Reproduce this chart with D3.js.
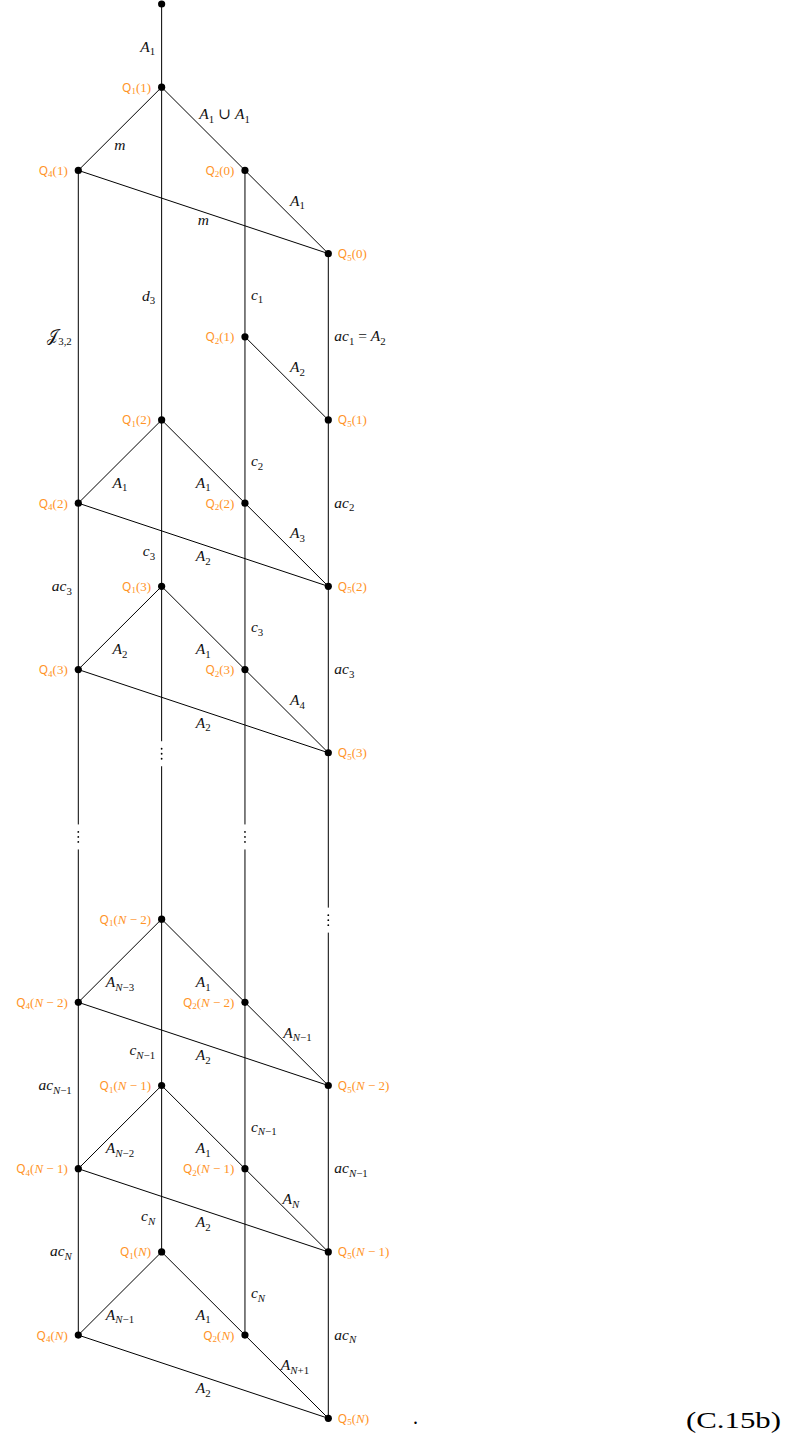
<!DOCTYPE html>
<html>
<head>
<meta charset="utf-8">
<script src="https://cdn.jsdelivr.net/npm/d3@7/dist/d3.min.js"></script>
<style>
  body { margin: 0; background: #fff; }
  text { white-space: pre; }
</style>
</head>
<body>
<div id="chart"></div>
<script>
//Columnas (familias de nodos) y filas del diagrama
const columns = ['Q4', 'Q1', 'Q2', 'Q5'];
const rowCount = 18;

//Nodos: [id, columna, fila, subíndice de Q, argumento]
const nodes = [
    ['top', 'Q1', 0, '', ''],
    ['Q1(1)', 'Q1', 1, '1', '1'],
    ['Q4(1)', 'Q4', 2, '4', '1'],
    ['Q2(0)', 'Q2', 2, '2', '0'],
    ['Q5(0)', 'Q5', 3, '5', '0'],
    ['Q2(1)', 'Q2', 4, '2', '1'],
    ['Q1(2)', 'Q1', 5, '1', '2'],
    ['Q5(1)', 'Q5', 5, '5', '1'],
    ['Q4(2)', 'Q4', 6, '4', '2'],
    ['Q2(2)', 'Q2', 6, '2', '2'],
    ['Q1(3)', 'Q1', 7, '1', '3'],
    ['Q5(2)', 'Q5', 7, '5', '2'],
    ['Q4(3)', 'Q4', 8, '4', '3'],
    ['Q2(3)', 'Q2', 8, '2', '3'],
    ['Q5(3)', 'Q5', 9, '5', '3'],
    ['Q1(N-2)', 'Q1', 11, '1', 'N - 2'],
    ['Q4(N-2)', 'Q4', 12, '4', 'N - 2'],
    ['Q2(N-2)', 'Q2', 12, '2', 'N - 2'],
    ['Q1(N-1)', 'Q1', 13, '1', 'N - 1'],
    ['Q5(N-2)', 'Q5', 13, '5', 'N - 2'],
    ['Q4(N-1)', 'Q4', 14, '4', 'N - 1'],
    ['Q2(N-1)', 'Q2', 14, '2', 'N - 1'],
    ['Q1(N)', 'Q1', 15, '1', 'N'],
    ['Q5(N-1)', 'Q5', 15, '5', 'N - 1'],
    ['Q4(N)', 'Q4', 16, '4', 'N'],
    ['Q2(N)', 'Q2', 16, '2', 'N'],
    ['Q5(N)', 'Q5', 17, '5', 'N']
];

//Aristas: [origen, destino, etiqueta]
const edges = [
    ['top', 'Q1(1)', 'A_1'],
    ['Q1(1)', 'Q4(1)', 'm'],
    ['Q1(1)', 'Q2(0)', 'A_1 ∪ A_1'],
    ['Q1(1)', 'Q1(2)', 'd_3'],
    ['Q4(1)', 'Q5(0)', 'm'],
    ['Q2(0)', 'Q5(0)', 'A_1'],
    ['Q2(0)', 'Q2(1)', 'c_1'],
    ['Q4(1)', 'Q4(2)', '𝒥_{3,2}'],
    ['Q5(0)', 'Q5(1)', 'ac_1 = A_2'],
    ['Q2(1)', 'Q5(1)', 'A_2'],
    ['Q1(2)', 'Q4(2)', 'A_1'],
    ['Q1(2)', 'Q2(2)', 'A_1'],
    ['Q2(1)', 'Q2(2)', 'c_2'],
    ['Q5(1)', 'Q5(2)', 'ac_2'],
    ['Q4(2)', 'Q5(2)', 'A_2'],
    ['Q2(2)', 'Q5(2)', 'A_3'],
    ['Q1(2)', 'Q1(3)', 'c_3'],
    ['Q4(2)', 'Q4(3)', 'ac_3'],
    ['Q2(2)', 'Q2(3)', 'c_3'],
    ['Q5(2)', 'Q5(3)', 'ac_3'],
    ['Q1(3)', 'Q4(3)', 'A_2'],
    ['Q1(3)', 'Q2(3)', 'A_1'],
    ['Q4(3)', 'Q5(3)', 'A_2'],
    ['Q2(3)', 'Q5(3)', 'A_4'],
    ['Q1(N-2)', 'Q4(N-2)', 'A_{N-3}'],
    ['Q1(N-2)', 'Q2(N-2)', 'A_1'],
    ['Q4(N-2)', 'Q5(N-2)', 'A_2'],
    ['Q2(N-2)', 'Q5(N-2)', 'A_{N-1}'],
    ['Q1(N-2)', 'Q1(N-1)', 'c_{N-1}'],
    ['Q4(N-2)', 'Q4(N-1)', 'ac_{N-1}'],
    ['Q2(N-2)', 'Q2(N-1)', 'c_{N-1}'],
    ['Q5(N-2)', 'Q5(N-1)', 'ac_{N-1}'],
    ['Q1(N-1)', 'Q4(N-1)', 'A_{N-2}'],
    ['Q1(N-1)', 'Q2(N-1)', 'A_1'],
    ['Q4(N-1)', 'Q5(N-1)', 'A_2'],
    ['Q2(N-1)', 'Q5(N-1)', 'A_N'],
    ['Q1(N-1)', 'Q1(N)', 'c_N'],
    ['Q4(N-1)', 'Q4(N)', 'ac_N'],
    ['Q2(N-1)', 'Q2(N)', 'c_N'],
    ['Q5(N-1)', 'Q5(N)', 'ac_N'],
    ['Q1(N)', 'Q4(N)', 'A_{N-1}'],
    ['Q1(N)', 'Q2(N)', 'A_1'],
    ['Q4(N)', 'Q5(N)', 'A_2'],
    ['Q2(N)', 'Q5(N)', 'A_{N+1}']
];

//Aristas con puntos suspensivos
const skipEdges = [
    ['Q1(3)', 'Q1(N-2)'],
    ['Q4(3)', 'Q4(N-2)'],
    ['Q2(3)', 'Q2(N-2)'],
    ['Q5(3)', 'Q5(N-2)']
];

const equationTag = '(C.15b)';

//Colores y fuentes
const COLOR_NODE_LABEL = '#ff9326',
    COLOR_LINE = '#000',
    MATH_FONT = "'Liberation Serif', 'DejaVu Serif', serif",
    SANS_FONT = "'Noto Sans', 'DejaVu Sans', sans-serif";

//Reglas de colocación de etiquetas según el tipo de arista
const placeRules = {
    'Q1-Q1': { side: 'left', t: 0.79 },
    'Q4-Q4': { side: 'left', t: 0.5 },
    'Q2-Q2': { side: 'right', t: 0.75 },
    'Q5-Q5': { side: 'right', t: 0.5 },
    'Q1-Q4': { side: 'center', tx: 0.5, ty: 0.76, dy: 0 },
    'Q1-Q2': { side: 'center', tx: 0.5, ty: 0.76, dy: 0 },
    'Q2-Q5': { side: 'center', tx: 0.63, ty: 0.37, dy: 0 },
    'Q4-Q5': { side: 'center', tx: 0.5, ty: 0.5, dy: 12 }
};
const placeOverrides = {
    0: { t: 0.52 },
    1: { ty: 0.7 },
    2: { side: 'aboveRight' },
    3: { t: 0.628 },
    4: { dy: 9 },
    35: { tx: 0.55 },
    43: { tx: 0.6 }
};

const width = 793, height = 1443;

const svg = d3.select('#chart')
    .append('svg')
        .attr('width', width)
        .attr('height', height)
        .attr('viewBox', [0, 0, width, height]);

let x = d3.scalePoint()
    .domain(columns)
    .range([78.3, 328.3]);

let y = d3.scaleLinear()
    .domain([0, rowCount - 1])
    .range([4, 1418.3]);

const nodeData = nodes.map(function(n) {
    return { id: n[0], col: n[1], row: n[2], idx: n[3], arg: n[4] };
});
const byId = new Map(nodeData.map(function(d) { return [d.id, d]; }));

function px(d) { return x(d.col); }
function py(d) { return y(d.row); }

//Texto matemático: separa subíndices y letras en cursiva
function mathRuns(str) {
    let out = [];
    let re = /_(\{[^}]*\}|.)|([^_]+)/g, m;
    while ((m = re.exec(str))) {
        if (m[1]) pushRuns(out, m[1].replace(/[{}]/g, ''), true);
        else pushRuns(out, m[2], false);
    }
    return out;
}
function pushRuns(out, s, sub) {
    s = s.replace(/-/g, '−');
    (s.match(/[A-Za-z]+|[^A-Za-z]+/g) || []).forEach(function(p) {
        out.push({ t: p, sub: sub, it: /[A-Za-z]/.test(p) });
    });
}
function setMath(sel, str, size) {
    let shift = 0;
    mathRuns(str).forEach(function(r) {
        let target = r.sub ? size * 0.24 : 0;
        sel.append('tspan')
            .attr('dy', target - shift)
            .attr('font-size', r.sub ? size * 0.7 : size)
            .attr('font-style', r.it ? 'italic' : 'normal')
            .text(r.t);
        shift = target;
    });
}

///// Líneas
const gLines = svg.append('g')
    .attr('stroke', COLOR_LINE)
    .attr('stroke-width', 1)
    .attr('fill', 'none');

gLines.selectAll('line.edge')
    .data(edges)
    .enter()
    .append('line')
    .attr('class', 'edge')
    .attr('x1', function(e) { return px(byId.get(e[0])); })
    .attr('y1', function(e) { return py(byId.get(e[0])); })
    .attr('x2', function(e) { return px(byId.get(e[1])); })
    .attr('y2', function(e) { return py(byId.get(e[1])); });

//Aristas interrumpidas con puntos suspensivos en su centro
const GAP = 12.5;
skipEdges.forEach(function(e) {
    let a = byId.get(e[0]), b = byId.get(e[1]);
    let xc = px(a), ym = (py(a) + py(b)) / 2 + 1;
    gLines.append('line')
        .attr('x1', xc).attr('x2', xc)
        .attr('y1', py(a)).attr('y2', ym - GAP);
    gLines.append('line')
        .attr('x1', xc).attr('x2', xc)
        .attr('y1', ym + GAP).attr('y2', py(b));
    svg.append('g')
        .selectAll('circle')
        .data([-5, 0, 5])
        .enter()
        .append('circle')
        .attr('cx', xc)
        .attr('cy', function(d) { return ym + d; })
        .attr('r', 0.9)
        .attr('fill', COLOR_LINE);
});

///// Nodos
svg.append('g')
    .selectAll('circle')
    .data(nodeData)
    .enter()
    .append('circle')
    .attr('cx', px)
    .attr('cy', py)
    .attr('r', 3.6)
    .attr('fill', COLOR_LINE);

//Etiquetas de nodos (naranja)
const nodeLabels = svg.append('g')
    .selectAll('text')
    .data(nodeData.filter(function(d) { return d.idx !== ''; }))
    .enter()
    .append('text')
    .attr('fill', COLOR_NODE_LABEL)
    .attr('font-family', MATH_FONT)
    .attr('font-size', 13)
    .attr('x', function(d) { return d.col === 'Q5' ? px(d) + 9.5 : px(d) - 10.5; })
    .attr('y', function(d) { return py(d) + 4.5; })
    .attr('text-anchor', function(d) { return d.col === 'Q5' ? 'start' : 'end'; });

nodeLabels.each(function(d) {
    let t = d3.select(this);
    t.append('tspan').attr('font-family', SANS_FONT).attr('font-size', 12).text('Q');
    t.append('tspan').attr('font-size', 9).attr('dy', 2.5).text(d.idx);
    t.append('tspan').attr('dy', -2.5).text('(');
    (d.arg.match(/[A-Za-z]+|[^A-Za-z]+/g) || []).forEach(function(p) {
        t.append('tspan')
            .attr('font-style', /[A-Za-z]/.test(p) ? 'italic' : 'normal')
            .text(p.replace(/-/g, '−'));
    });
    t.append('tspan').text(')');
});

///// Etiquetas de aristas
const LABEL_SIZE = 15.5;
const edgeLabels = svg.append('g')
    .attr('fill', '#111')
    .attr('font-family', MATH_FONT)
    .selectAll('text')
    .data(edges)
    .enter()
    .append('text');

edgeLabels.each(function(e, i) {
    let a = byId.get(e[0]), b = byId.get(e[1]);
    let x0 = px(a), y0 = py(a), x1 = px(b), y1 = py(b);
    let o = Object.assign({}, placeRules[a.col + '-' + b.col], placeOverrides[i] || {});
    let lx, ly, anchor;
    if (o.side === 'left' || o.side === 'right') {
        ly = y0 + o.t * (y1 - y0);
        lx = o.side === 'left' ? x0 - 6.5 : x0 + 6;
        anchor = o.side === 'left' ? 'end' : 'start';
    } else if (o.side === 'aboveRight') {
        lx = (x0 + x1) / 2 - 4;
        ly = (y0 + y1) / 2 - 14;
        anchor = 'start';
    } else {
        lx = x0 + o.tx * (x1 - x0);
        ly = y0 + o.ty * (y1 - y0) + (o.dy || 0);
        anchor = 'middle';
    }
    let t = d3.select(this)
        .attr('x', lx)
        .attr('y', ly + 4.5)
        .attr('text-anchor', anchor);
    setMath(t, e[2], LABEL_SIZE);
});

///// Punto final y número de ecuación
const last = byId.get('Q5(N)');
svg.append('text')
    .attr('x', 413)
    .attr('y', py(last) + 6)
    .attr('font-family', MATH_FONT)
    .attr('font-size', 20)
    .text('.');

svg.append('text')
    .attr('x', 781)
    .attr('y', py(last) + 9.5)
    .attr('text-anchor', 'end')
    .attr('font-family', MATH_FONT)
    .attr('font-size', 23)
    .attr('textLength', 95)
    .attr('lengthAdjust', 'spacingAndGlyphs')
    .text(equationTag);
</script>
</body>
</html>
